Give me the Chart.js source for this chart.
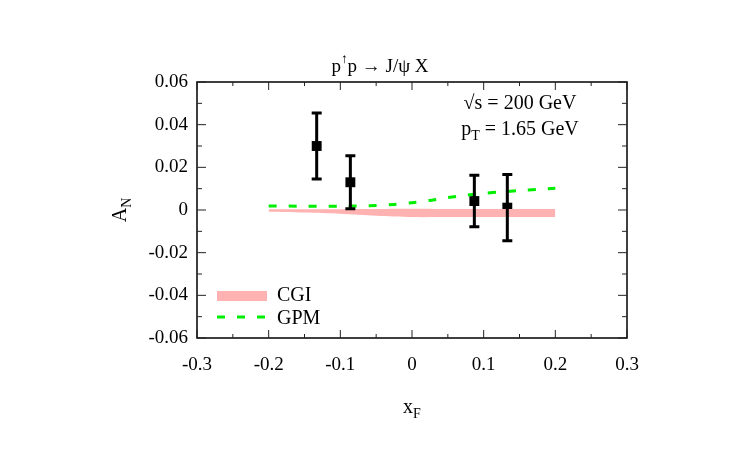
<!DOCTYPE html>
<html>
<head>
<meta charset="utf-8">
<script src="https://cdn.jsdelivr.net/npm/chart.js@4/dist/chart.umd.min.js"></script>
<style>
  body { margin: 0; background: #fff; }
  #wrap { width: 750px; height: 450px; }
</style>
</head>
<body>
<div id="wrap"><canvas id="anChart"></canvas></div>
<script>
// data points : x_F, A_N, error
const dataX = [-0.133, -0.086, 0.087, 0.133];
const dataY = [0.030, 0.013, 0.0042, 0.0011];
const dataErr = [0.0155, 0.0124, 0.0121, 0.0155];

// CGI band
const cgiX = [-0.2, -0.15, -0.1, -0.05, 0, 0.05, 0.1, 0.15, 0.2];
const cgiUpper = [0.0003, 0.0003, 0.0004, 0.0005, 0.0006, 0.0005, 0.0005, 0.0005, 0.0005];
const cgiLower = [-0.0008, -0.0012, -0.0018, -0.0027, -0.0033, -0.0033, -0.0033, -0.0033, -0.0033];

// GPM curve
const gpmX = [-0.2, -0.15, -0.1, -0.05, -0.025, 0, 0.025, 0.05, 0.075, 0.1, 0.125, 0.15, 0.175, 0.2];
const gpmY = [0.0019, 0.0018, 0.0018, 0.0021, 0.0026, 0.0034, 0.0045, 0.0058, 0.0069, 0.0078, 0.0085, 0.0091, 0.0097, 0.0102];

const xTicks = [-0.3, -0.2, -0.1, 0, 0.1, 0.2, 0.3];
const yTicks = [-0.06, -0.04, -0.02, 0, 0.02, 0.04, 0.06];

const FONT = '"Liberation Serif", "DejaVu Serif", serif';
const pink = 'rgb(255,178,178)';
const green = '#00ee00';

function pts(xs, ys) {
    return xs.map((x, i) => ({ x: x, y: ys[i] }));
}
function fmt(v) {
    return String(Number(v.toFixed(3)));
}

// draw text with sub/superscript parts: [[text, 'n'|'sub'|'sup'], ...]
function richText(ctx, parts, x, y, size, align) {
    const widths = parts.map(p => {
        ctx.font = (p[1] === 'n' ? size : size * 0.7) + 'px ' + FONT;
        return ctx.measureText(p[0]).width;
    });
    const total = widths.reduce((a, b) => a + b, 0);
    let cx = align === 'center' ? x - total / 2 : x;
    parts.forEach((p, i) => {
        ctx.font = (p[1] === 'n' ? size : size * 0.7) + 'px ' + FONT;
        let dy = 0;
        if (p[1] === 'sub') dy = size * 0.3;
        if (p[1] === 'sup') dy = -size * 0.4;
        ctx.fillText(p[0], cx, y + dy);
        cx += widths[i];
    });
}

const decorPlugin = {
    id: 'decor',
    afterDatasetsDraw(chart) {
        const ctx = chart.ctx;
        const xs = chart.scales.x, ys = chart.scales.y;
        const a = chart.chartArea;
        ctx.save();

        // error bars
        ctx.strokeStyle = '#000';
        ctx.lineWidth = 3;
        dataX.forEach((x, i) => {
            const px = xs.getPixelForValue(x);
            const top = ys.getPixelForValue(dataY[i] + dataErr[i]);
            const bot = ys.getPixelForValue(dataY[i] - dataErr[i]);
            ctx.beginPath();
            ctx.moveTo(px, top); ctx.lineTo(px, bot);
            ctx.moveTo(px - 5, top); ctx.lineTo(px + 5, top);
            ctx.moveTo(px - 5, bot); ctx.lineTo(px + 5, bot);
            ctx.stroke();
        });

        // frame
        ctx.lineWidth = 1.5;
        ctx.strokeRect(a.left, a.top, a.right - a.left, a.bottom - a.top);

        // inward ticks
        ctx.lineWidth = 1;
        ctx.strokeStyle = '#222';
        for (let k = -6; k <= 6; k++) {
            const px = xs.getPixelForValue(k * 0.05);
            const len = k % 2 === 0 ? 8 : 4;
            ctx.beginPath();
            ctx.moveTo(px, a.bottom); ctx.lineTo(px, a.bottom - len);
            ctx.moveTo(px, a.top); ctx.lineTo(px, a.top + len);
            ctx.stroke();
        }
        for (let k = -6; k <= 6; k++) {
            const py = ys.getPixelForValue(k * 0.01);
            const len = k % 2 === 0 ? 9 : 5;
            ctx.beginPath();
            ctx.moveTo(a.left, py); ctx.lineTo(a.left + len, py);
            ctx.moveTo(a.right, py); ctx.lineTo(a.right - len, py);
            ctx.stroke();
        }

        ctx.fillStyle = '#000';
        ctx.textBaseline = 'middle';

        // title
        richText(ctx, [['p', 'n'], ['\u2191', 'sup'], ['p \u2192 J/\u03c8 X', 'n']], 380, 67, 19, 'center');

        // annotation
        richText(ctx, [['\u221as = 200 GeV', 'n']], 520, 104, 20, 'center');
        richText(ctx, [['p', 'n'], ['T', 'sub'], [' = 1.65 GeV', 'n']], 520, 130, 20, 'center');

        // axis titles
        richText(ctx, [['x', 'n'], ['F', 'sub']], 412, 408, 20, 'center');
        ctx.save();
        ctx.translate(121, 210);
        ctx.rotate(-Math.PI / 2);
        richText(ctx, [['A', 'n'], ['N', 'sub']], 0, 0, 20, 'center');
        ctx.restore();

        // legend
        ctx.fillStyle = pink;
        ctx.fillRect(217, 291, 50, 10);
        ctx.strokeStyle = green;
        ctx.lineWidth = 3;
        ctx.setLineDash([8, 12]);
        ctx.beginPath();
        ctx.moveTo(217, 317); ctx.lineTo(267, 317);
        ctx.stroke();
        ctx.setLineDash([]);
        ctx.fillStyle = '#000';
        richText(ctx, [['CGI', 'n']], 277, 296, 20, 'left');
        richText(ctx, [['GPM', 'n']], 277, 319, 20, 'left');

        ctx.restore();
    }
};

new Chart(document.getElementById('anChart'), {
    type: 'line',
    data: {
        datasets: [
            {
                label: 'CGI lower',
                data: pts(cgiX, cgiLower),
                borderWidth: 0,
                pointRadius: 0,
                fill: false,
                tension: 0.3
            },
            {
                label: 'CGI',
                data: pts(cgiX, cgiUpper),
                borderWidth: 0,
                pointRadius: 0,
                backgroundColor: pink,
                fill: '-1',
                tension: 0.3
            },
            {
                label: 'GPM',
                data: pts(gpmX, gpmY),
                borderColor: green,
                borderWidth: 3,
                borderDash: [8, 12],
                pointRadius: 0,
                fill: false,
                tension: 0.3
            },
            {
                label: 'data',
                data: pts(dataX, dataY),
                showLine: false,
                pointStyle: 'rect',
                pointRadius: 7,
                backgroundColor: '#000',
                borderColor: '#000',
                borderWidth: 0
            }
        ]
    },
    options: {
        responsive: true,
        maintainAspectRatio: false,
        animation: false,
        layout: { padding: { left: 117, right: 123, top: 82, bottom: 0 } },
        plugins: {
            legend: { display: false },
            tooltip: { enabled: false }
        },
        scales: {
            x: {
                type: 'linear',
                min: -0.3,
                max: 0.3,
                afterFit: s => { s.height = 112; },
                afterBuildTicks: s => { s.ticks = xTicks.map(v => ({ value: v })); },
                grid: { display: false, drawTicks: false },
                border: { display: false },
                ticks: {
                    padding: 16,
                    color: '#000',
                    font: { family: FONT, size: 19 },
                    callback: v => fmt(v)
                }
            },
            y: {
                min: -0.06,
                max: 0.06,
                afterFit: s => { s.width = 80; },
                afterBuildTicks: s => { s.ticks = yTicks.map(v => ({ value: v })); },
                grid: { display: false, drawTicks: false },
                border: { display: false },
                ticks: {
                    padding: 9,
                    color: '#000',
                    font: { family: FONT, size: 19 },
                    callback: v => fmt(v)
                }
            }
        }
    },
    plugins: [decorPlugin]
});
</script>
</body>
</html>
